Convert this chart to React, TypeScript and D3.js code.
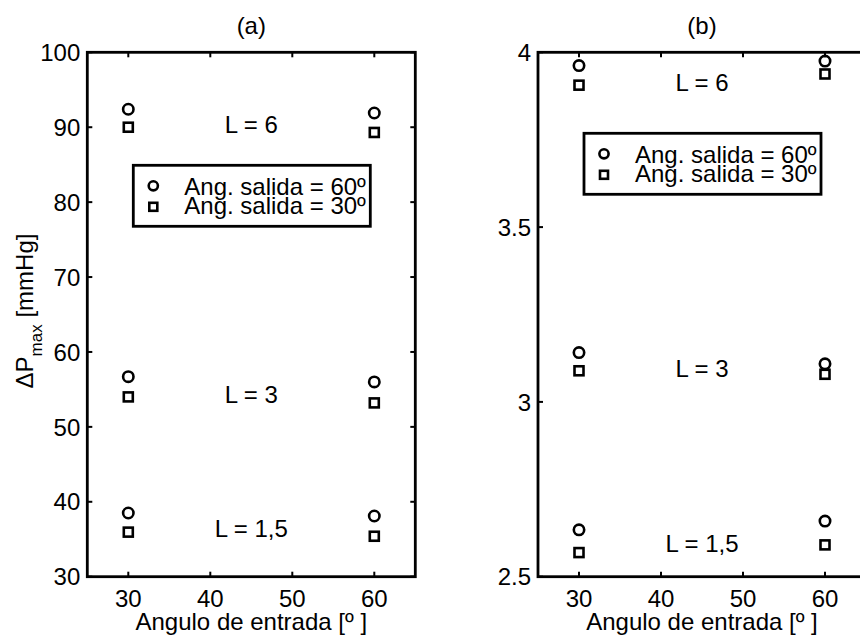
import * as d3 from "d3";

// x: entry angle (deg)
const ANGULOS = [30, 60];
const X_TICKS = [30, 40, 50, 60];
const L_LABELS = ["L = 6", "L = 3", "L = 1,5"];

// panel (a): ΔPmax [mmHg], one row per L, one value per entry angle
const A_SALIDA60 = [[92.4, 91.9], [56.7, 56.0], [38.5, 38.1]];
const A_SALIDA30 = [[90.0, 89.3], [54.0, 53.2], [35.95, 35.4]];
const A_LABEL_Y = [90.4, 54.4, 36.4];
const A_YTICKS = [30, 40, 50, 60, 70, 80, 90, 100];

// panel (b)
const B_SALIDA60 = [[3.962, 3.975], [3.141, 3.109], [2.634, 2.659]];
const B_SALIDA30 = [[3.906, 3.938], [3.089, 3.079], [2.569, 2.591]];
const B_LABEL_Y = [3.914, 3.097, 2.596];
const B_YTICKS = [2.5, 3, 3.5, 4];

const LEGEND = ["Ang. salida = 60º", "Ang. salida = 30º"];

const FONT = "'Liberation Sans', Arial, Helvetica, sans-serif";
const W = 860, H = 637;
const TOP = 52.3, BOTTOM = 576.7, PW = 328;

function Circle({cx, cy, r = 5.2}) {
  return <circle cx={cx} cy={cy} r={r} fill="none" stroke="#000" strokeWidth={2.6} />;
}
function Square({cx, cy, s = 9}) {
  return <rect x={cx - s / 2} y={cy - s / 2} width={s} height={s} fill="none" stroke="#000" strokeWidth={2.6} />;
}

function Panel({left, title, yDomain, yTicks, fmt, s60, s30, labelY, legendTop, ylabel}) {
  const x = d3.scaleLinear().domain([25, 65]).range([left, left + PW]);
  const y = d3.scaleLinear().domain(yDomain).range([BOTTOM, TOP]);
  const right = left + PW;
  const tk = 5;
  const lx = left + 46, lw = 237, lh = 61, ly = TOP + legendTop;

  return (
    <g fontFamily={FONT} fill="#000">
      <text x={(left + right) / 2} y={34} fontSize={24} fontFamily={FONT} textAnchor="middle">{title}</text>

      {/* frame */}
      <rect x={left} y={TOP} width={PW} height={BOTTOM - TOP} fill="none" stroke="#000" strokeWidth={2.8} />

      {X_TICKS.map(t => (
        <g key={"x" + t}>
          <line x1={x(t)} x2={x(t)} y1={BOTTOM} y2={BOTTOM - tk} stroke="#000" strokeWidth={2} />
          <line x1={x(t)} x2={x(t)} y1={TOP} y2={TOP + tk} stroke="#000" strokeWidth={2} />
          <text x={x(t)} y={BOTTOM + 30} fontSize={24} textAnchor="middle">{t}</text>
        </g>
      ))}
      {yTicks.map(t => (
        <g key={"y" + t}>
          <line x1={left} x2={left + tk} y1={y(t)} y2={y(t)} stroke="#000" strokeWidth={2} />
          <line x1={right} x2={right - tk} y1={y(t)} y2={y(t)} stroke="#000" strokeWidth={2} />
          <text x={left - 7} y={y(t)} dy="0.36em" fontSize={24} textAnchor="end">{fmt(t)}</text>
        </g>
      ))}

      <text x={(left + right) / 2} y={630} fontSize={24} textAnchor="middle">Angulo de entrada [º ]</text>

      {ylabel && (
        <text transform={`translate(33,311) rotate(-90)`} fontSize={24} textAnchor="middle">
          ΔP<tspan fontSize={17} dy={9.4}>max</tspan><tspan dy={-9.4}> [mmHg]</tspan>
        </text>
      )}

      {L_LABELS.map((lab, i) => (
        <text key={lab} x={x(45)} y={y(labelY[i])} dy="0.36em" fontSize={24} textAnchor="middle">{lab}</text>
      ))}

      {/* legend */}
      <rect x={lx} y={ly} width={lw} height={lh} fill="#fff" stroke="#000" strokeWidth={2.8} />
      <Circle cx={lx + 20} cy={ly + 20.5} r={4.6} />
      <Square cx={lx + 20} cy={ly + 41.5} s={8} />
      <text x={lx + 51} y={ly + 30} fontSize={24}>{LEGEND[0]}</text>
      <text x={lx + 51} y={ly + 48.5} fontSize={24}>{LEGEND[1]}</text>

      {s60.map((row, i) => row.map((v, j) => (
        <Circle key={`c${i}${j}`} cx={x(ANGULOS[j])} cy={y(v)} />
      )))}
      {s30.map((row, i) => row.map((v, j) => (
        <Square key={`s${i}${j}`} cx={x(ANGULOS[j])} cy={y(v)} />
      )))}
    </g>
  );
}

export default function App() {
  return (
    <svg width={W} height={H} style={{position: "absolute", left: 0, top: 0, background: "#fff"}}>
      <rect width={W} height={H} fill="#fff" />
      <Panel left={87.3} title="(a)" yDomain={[30, 100]} yTicks={A_YTICKS} fmt={(t: number) => String(t)}
        s60={A_SALIDA60} s30={A_SALIDA30} labelY={A_LABEL_Y} legendTop={113} ylabel />
      <Panel left={538} title="(b)" yDomain={[2.5, 4]} yTicks={B_YTICKS} fmt={(t: number) => String(t)}
        s60={B_SALIDA60} s30={B_SALIDA30} labelY={B_LABEL_Y} legendTop={81} ylabel={false} />
    </svg>
  );
}
